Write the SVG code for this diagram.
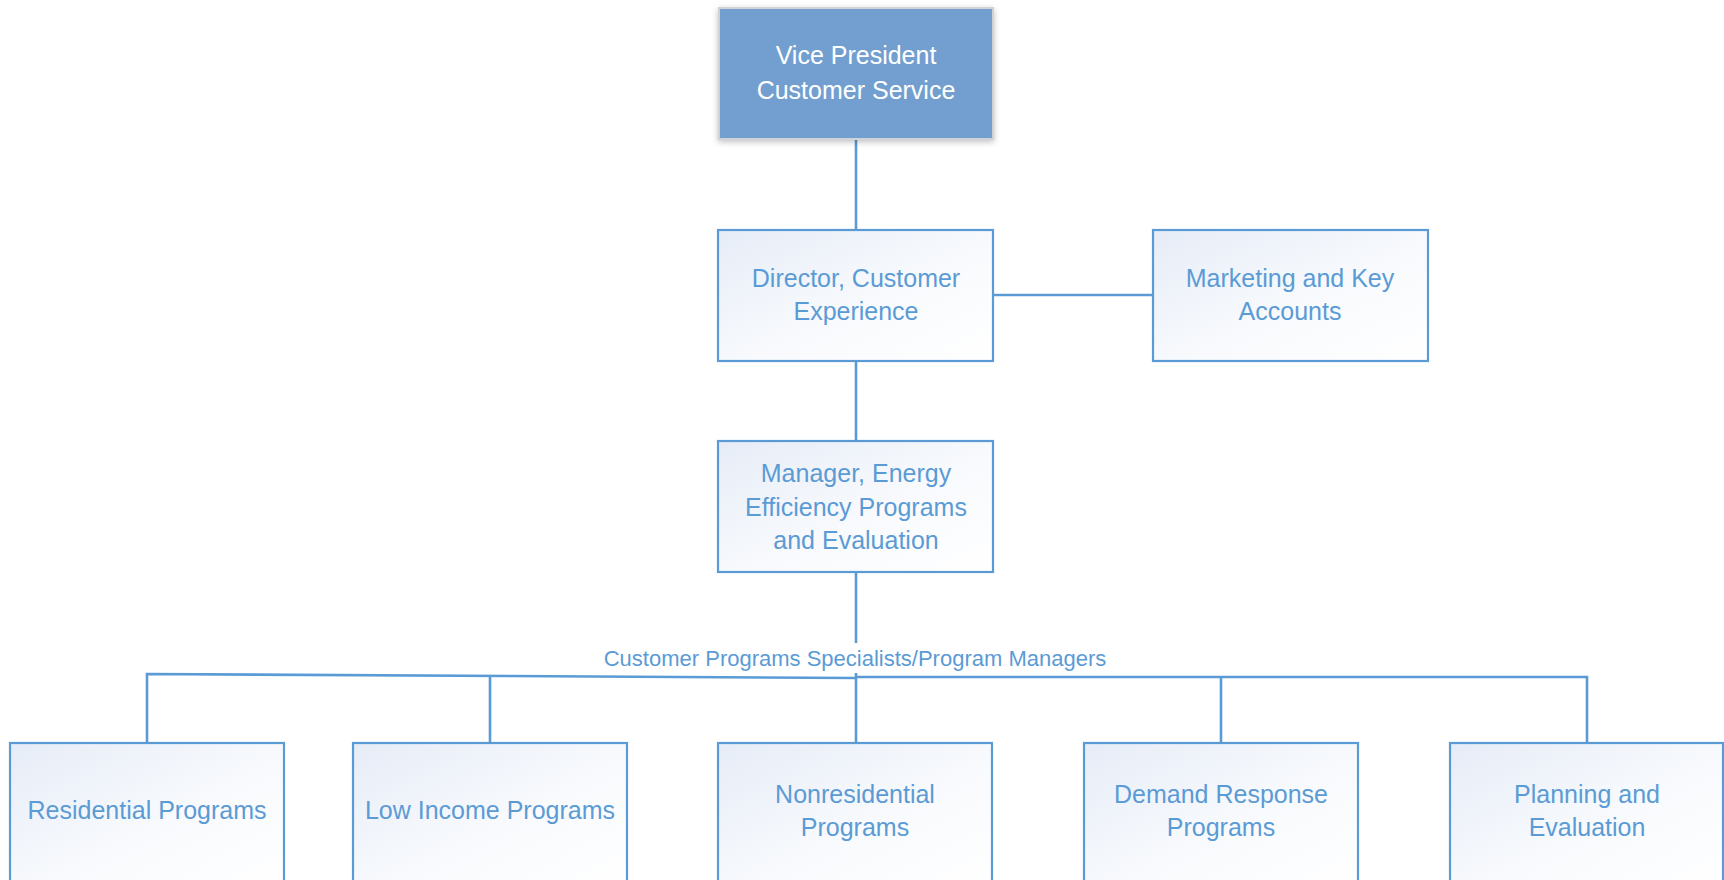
<svg xmlns="http://www.w3.org/2000/svg" width="1724" height="880" viewBox="0 0 1724 880">
<defs>
<linearGradient id="boxfill" x1="0" y1="0" x2="1" y2="1">
<stop offset="0" stop-color="#e6ecf7"/>
<stop offset="0.55" stop-color="#f8fafd"/>
<stop offset="1" stop-color="#ffffff"/>
</linearGradient>
<filter id="shadow" x="-10%" y="-10%" width="120%" height="125%">
<feGaussianBlur in="SourceAlpha" stdDeviation="3"/>
<feOffset dx="0" dy="2"/>
<feComponentTransfer><feFuncA type="linear" slope="0.25"/></feComponentTransfer>
<feMerge><feMergeNode/><feMergeNode in="SourceGraphic"/></feMerge>
</filter>
</defs>
<style>
.box{fill:url(#boxfill);stroke:#5b9bd5;stroke-width:2.2}
.t{font-family:"Liberation Sans",Arial,sans-serif;font-size:25px;fill:#5b9bd5;text-anchor:middle}
.tw{fill:#ffffff}
.conn{fill:none;stroke:#5b9bd5;stroke-width:2.6}
.lbl{font-family:"Liberation Sans",Arial,sans-serif;font-size:22px;fill:#5b9bd5;text-anchor:middle}
</style>
<rect width="1724" height="880" fill="#ffffff"/>
<g id="connectors">
<line class="conn" x1="856" y1="139" x2="856" y2="230"/>
<line class="conn" x1="993" y1="295" x2="1153" y2="295"/>
<line class="conn" x1="856" y1="361" x2="856" y2="441"/>
<line class="conn" x1="856" y1="572" x2="856" y2="643"/>
<line class="conn" x1="856" y1="673" x2="856" y2="743"/>
<polyline class="conn" points="147,743 147,674 856,678"/>
<polyline class="conn" points="856,677 1587,677 1587,743"/>
<line class="conn" x1="490" y1="676" x2="490" y2="743"/>
<line class="conn" x1="1221" y1="677" x2="1221" y2="743"/>
<text class="lbl" x="855" y="666">Customer Programs Specialists/Program Managers</text>
</g>
<g id="vp">
<rect x="719" y="8" width="274" height="131" fill="#729fcf" stroke="#cfd3d8" stroke-width="2" filter="url(#shadow)"/>
<text class="t tw" x="856" y="64">Vice President</text>
<text class="t tw" x="856" y="99">Customer Service</text>
</g>
<g id="director">
<rect class="box" x="718" y="230" width="275" height="131"/>
<text class="t" x="856" y="287">Director, Customer</text>
<text class="t" x="856" y="320">Experience</text>
</g>
<g id="marketing">
<rect class="box" x="1153" y="230" width="275" height="131"/>
<text class="t" x="1290" y="287">Marketing and Key</text>
<text class="t" x="1290" y="320">Accounts</text>
</g>
<g id="manager">
<rect class="box" x="718" y="441" width="275" height="131"/>
<text class="t" x="856" y="482">Manager, Energy</text>
<text class="t" x="856" y="516">Efficiency Programs</text>
<text class="t" x="856" y="549">and Evaluation</text>
</g>
<g id="residential">
<rect class="box" x="10" y="743" width="274" height="145"/>
<text class="t" x="147" y="819">Residential Programs</text>
</g>
<g id="lowincome">
<rect class="box" x="353" y="743" width="274" height="145"/>
<text class="t" x="490" y="819">Low Income Programs</text>
</g>
<g id="nonresidential">
<rect class="box" x="718" y="743" width="274" height="145"/>
<text class="t" x="855" y="803">Nonresidential</text>
<text class="t" x="855" y="836">Programs</text>
</g>
<g id="demand">
<rect class="box" x="1084" y="743" width="274" height="145"/>
<text class="t" x="1221" y="803">Demand Response</text>
<text class="t" x="1221" y="836">Programs</text>
</g>
<g id="planning">
<rect class="box" x="1450" y="743" width="273" height="145"/>
<text class="t" x="1587" y="803">Planning and</text>
<text class="t" x="1587" y="836">Evaluation</text>
</g>
</svg>
